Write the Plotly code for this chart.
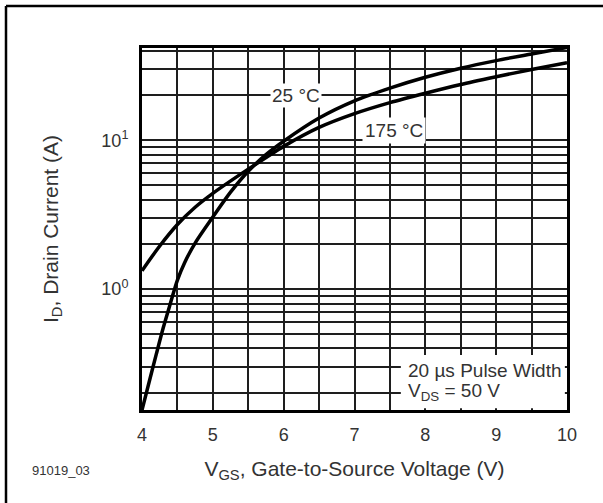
import plotly.graph_objects as go

# ---- data ----
vgs_25 = [4.0, 4.1, 4.2, 4.3, 4.4, 4.5, 4.6, 4.75, 5.0, 5.25, 5.5, 5.75, 6.0, 6.5, 7.0, 7.5, 8.0, 8.5, 9.0, 9.5, 10.0]
id_25 = [0.154, 0.237, 0.363, 0.55, 0.80, 1.15, 1.5, 2.04, 3.05, 4.48, 6.2, 8.0, 9.85, 14.1, 18.4, 22.4, 26.5, 30.5, 34.3, 38.0, 42.0]

vgs_175 = [4.0, 4.25, 4.5, 4.75, 5.0, 5.5, 6.0, 6.5, 7.0, 7.5, 8.0, 8.5, 9.0, 9.5, 10.0]
id_175 = [1.33, 1.95, 2.72, 3.55, 4.4, 6.4, 9.1, 12.2, 15.1, 17.9, 20.7, 23.7, 26.7, 29.9, 33.2]

# labelled ticks
x_tickvals = [4, 5, 6, 7, 8, 9, 10]
x_ticktext = ["4", "5", "6", "7", "8", "9", "10"]
y_tickvals = [1, 10]
y_ticktext = ["10<sup>0</sup>", "10<sup>1</sup>"]

# unlabelled grid lines
x_minor_vals = [4.5, 5.5, 6.5, 7.5, 8.5, 9.5]
y_minor_vals = [0.2, 0.3, 0.4, 0.5, 0.6, 0.7, 0.8, 0.9,
                2, 3, 4, 5, 6, 7, 8, 9,
                20, 30, 40]

x_range = [4, 10]
y_range_log = [-0.812, 1.62]

FONT = "Liberation Sans, Arial, Helvetica, sans-serif"
TXT = "#333333"
GRID = "#1e1e1e"

fig = go.Figure()

fig.add_trace(go.Scatter(x=vgs_175, y=id_175, mode="lines", name="175 °C",
                         line=dict(color="black", width=3.5, shape="spline", smoothing=0.8),
                         showlegend=False, hoverinfo="x+y"))
fig.add_trace(go.Scatter(x=vgs_25, y=id_25, mode="lines", name="25 °C",
                         line=dict(color="black", width=3.5, shape="spline", smoothing=0.8),
                         showlegend=False, hoverinfo="x+y"))

fig.update_layout(
    width=603, height=503,
    margin=dict(l=142, r=36, t=48, b=93),
    paper_bgcolor="white", plot_bgcolor="white",
    font=dict(family=FONT, color=TXT),
    xaxis=dict(
        range=x_range, tickmode="array", tickvals=x_tickvals, ticktext=x_ticktext,
        showgrid=True, gridcolor=GRID, gridwidth=1.6,
        minor=dict(tickmode="array", tickvals=x_minor_vals, showgrid=True,
                   gridcolor=GRID, gridwidth=1.6, ticks=""),
        showline=True, linecolor="black", linewidth=3, mirror=True,
        ticks="", ticklabelstandoff=6, zeroline=False,
        tickfont=dict(size=18, color=TXT, family=FONT),
        title=dict(text="V<sub>GS</sub>, Gate-to-Source Voltage (V)",
                   font=dict(size=21, color=TXT, family=FONT), standoff=18),
    ),
    yaxis=dict(
        type="log", range=y_range_log, tickmode="array", tickvals=y_tickvals, ticktext=y_ticktext,
        showgrid=True, gridcolor=GRID, gridwidth=1.6,
        minor=dict(tickmode="array", tickvals=y_minor_vals, showgrid=True,
                   gridcolor=GRID, gridwidth=1.6, ticks=""),
        showline=True, linecolor="black", linewidth=3, mirror=True,
        ticks="", ticklabelstandoff=7, zeroline=False,
        tickfont=dict(size=18, color=TXT, family=FONT),
        title=dict(text="I<sub>D</sub>, Drain Current (A)",
                   font=dict(size=21, color=TXT, family=FONT), standoff=38),
    ),
)

# white box behind the test-condition note
fig.add_shape(type="rect", xref="x domain", yref="y domain",
              x0=0.609, x1=0.995, y0=0.005, y1=0.152,
              fillcolor="white", line=dict(width=0), layer="above")

# outer frame (top and left edges)
fig.add_shape(type="line", xref="paper", yref="paper", x0=-0.32, x1=1.09, y0=1.116, y1=1.116,
              line=dict(color="black", width=2.5))
fig.add_shape(type="line", xref="paper", yref="paper", x0=-0.32, x1=-0.32, y0=1.116, y1=-0.26,
              line=dict(color="black", width=2.5))

fig.add_annotation(x=6.17, y=1.301, xref="x", yref="y", text="25 °C", showarrow=False,
                   font=dict(size=19, color=TXT, family=FONT), bgcolor="white", borderpad=1)
fig.add_annotation(x=7.56, y=1.065, xref="x", yref="y", text="175 °C", showarrow=False,
                   font=dict(size=19, color=TXT, family=FONT), bgcolor="white", borderpad=2)
fig.add_annotation(x=0.62, y=0.110, xref="paper", yref="paper", text="20 µs Pulse Width",
                   showarrow=False, xanchor="left", yanchor="middle",
                   font=dict(size=19, color=TXT, family=FONT))
fig.add_annotation(x=0.62, y=0.050, xref="paper", yref="paper", text="V<sub>DS</sub> = 50 V",
                   showarrow=False, xanchor="left", yanchor="middle",
                   font=dict(size=19, color=TXT, family=FONT))
fig.add_annotation(x=-0.19, y=-0.168, xref="paper", yref="paper", text="91019_03",
                   showarrow=False, xanchor="center", yanchor="middle",
                   font=dict(size=13, color=TXT, family=FONT))

fig.write_html("out.html", config={"displayModeBar": False},
               post_script="document.body.style.margin='0px';")
